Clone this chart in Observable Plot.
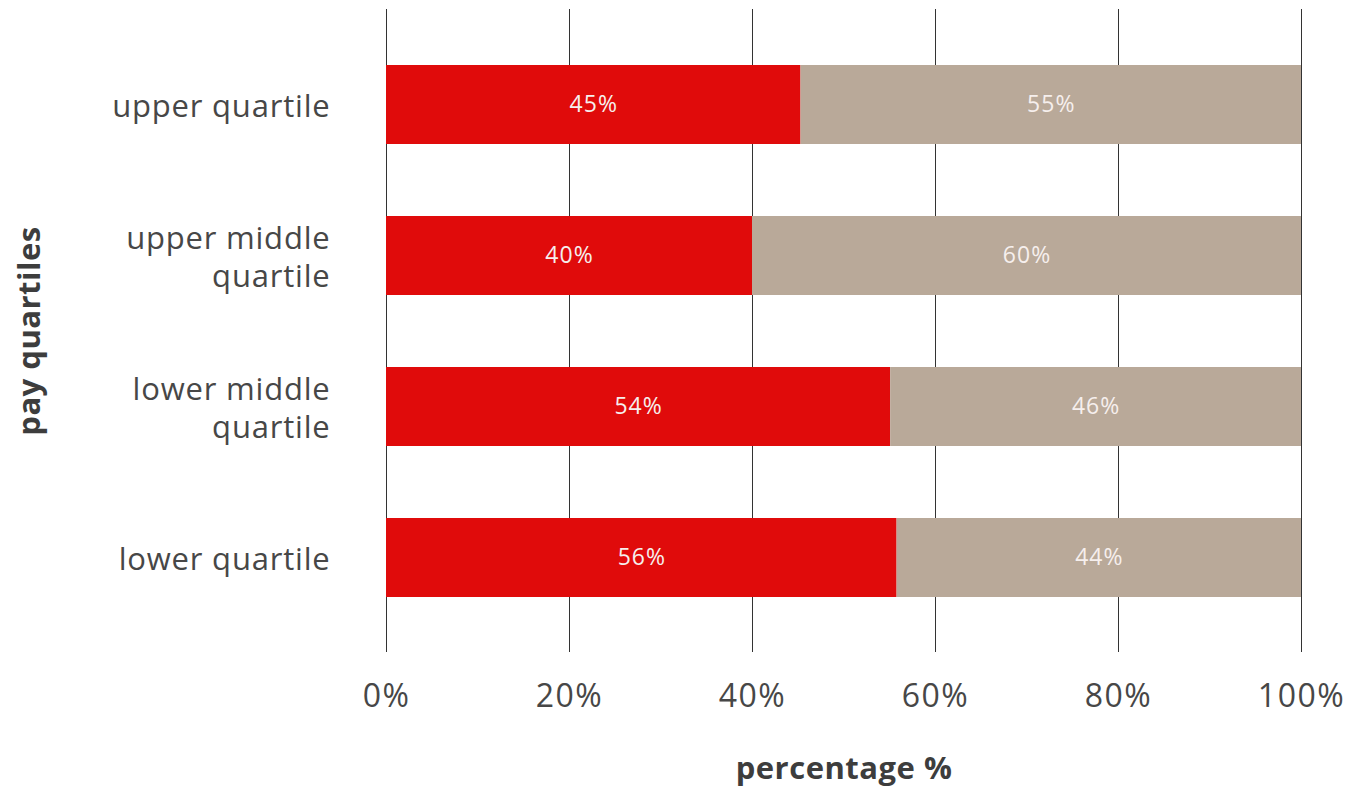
<!DOCTYPE html>
<html>
<head>
<meta charset="utf-8">
<script src="https://cdn.jsdelivr.net/npm/d3@7"></script>
<script src="https://cdn.jsdelivr.net/npm/@observablehq/plot@0.6"></script>
<style>
  html, body { margin: 0; padding: 0; background: #fff; }
  #chart svg { display: block; }
  .xaxis text { letter-spacing: 1.5px; }
  .yaxis text { letter-spacing: 0.8px; }
  .barlabel text { letter-spacing: 1px; }
  .title text { letter-spacing: 0.5px; }
</style>
</head>
<body>
<div id="chart"></div>
<script>
// ---- data ----
const categories = ["upper quartile", "upper middle quartile", "lower middle quartile", "lower quartile"];
const categoryLabels = ["upper quartile", "upper middle\nquartile", "lower middle\nquartile", "lower quartile"];
const groups = ["women", "men"];
const womenValues = [45.3, 40.0, 55.1, 55.8];
const menValues = [54.7, 60.0, 44.9, 44.2];
const womenLabels = ["45%", "40%", "54%", "56%"];
const menLabels = ["55%", "60%", "46%", "44%"];
const xTicks = [0, 20, 40, 60, 80, 100];
const xTickLabels = ["0%", "20%", "40%", "60%", "80%", "100%"];

// ---- table built from the arrays ----
const rows = [];
categories.forEach((q, i) => {
  rows.push({q, group: groups[0], value: womenValues[i], label: womenLabels[i]});
  rows.push({q, group: groups[1], value: menValues[i], label: menLabels[i]});
});
const labelOf = new Map(categories.map((c, i) => [c, categoryLabels[i]]));
const tickLabelOf = new Map(xTicks.map((t, i) => [t, xTickLabels[i]]));

const FONT = "Open Sans, Lato, sans-serif";

const chart = Plot.plot({
  width: 1347,
  height: 787,
  marginLeft: 386,
  marginRight: 46,
  marginTop: 9,
  marginBottom: 135,
  style: {fontFamily: FONT, background: "#fff", color: "#474747"},
  x: {domain: [0, 100]},
  y: {domain: categories, paddingInner: 0.48, paddingOuter: 0.365},
  color: {domain: groups, range: ["#e00b0b", "#b9a999"]},
  marks: [
    Plot.ruleX(xTicks, {stroke: "#333", strokeWidth: 1}),
    Plot.barX(rows, Plot.stackX({x: "value", y: "q", fill: "group", z: "group", order: groups})),
    Plot.text(rows, Plot.stackX({x: "value", y: "q", z: "group", text: "label", order: groups, fill: "#f6efed", fontSize: 23, className: "barlabel"})),
    Plot.axisX({ticks: xTicks, tickFormat: d => tickLabelOf.get(d), tickSize: 0, tickPadding: 32, fontSize: 32, label: null, fill: "#474747", className: "xaxis"}),
    Plot.axisY({tickFormat: d => labelOf.get(d), tickSize: 0, tickPadding: 56, fontSize: 31, lineHeight: 1.2, label: null, fill: "#474747", className: "yaxis"}),
    Plot.text(["percentage %"], {frameAnchor: "bottom", lineAnchor: "middle", dy: 117, fontSize: 31, fontWeight: "bold", fill: "#3d3d3d", className: "title"}),
    Plot.text(["pay quartiles"], {frameAnchor: "left", textAnchor: "middle", lineAnchor: "middle", dx: -356, rotate: -90, fontSize: 31, fontWeight: "bold", fill: "#3d3d3d", className: "title"})
  ]
});
document.getElementById("chart").appendChild(chart);
</script>
</body>
</html>
